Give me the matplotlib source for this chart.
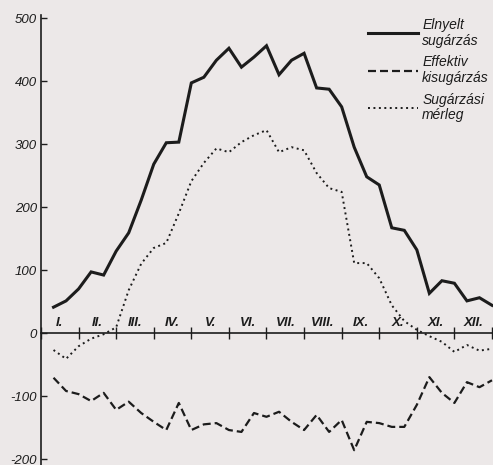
import matplotlib
matplotlib.use("Agg")
import matplotlib.pyplot as plt

# decade (10-day) values, 3 per month
decades = list(range(1, 37))
elnyelt = [41, 51, 70, 97, 92, 130, 159, 211, 268, 302, 303, 397,
           406, 433, 452, 422, 438, 456, 410, 433, 444, 389, 387, 359,
           295, 248, 235, 167, 163, 132, 63, 83, 79, 51, 56, 44]
effektiv = [-71, -92, -97, -108, -95, -122, -109, -127, -141, -154, -111, -154,
            -145, -143, -154, -157, -127, -133, -125, -141, -154, -130, -157, -138,
            -186, -141, -143, -149, -149, -114, -70, -95, -111, -78, -86, -75]
merleg = [-27, -41, -21, -9, -2, 9, 68, 110, 135, 143, 190, 241,
          270, 293, 287, 303, 314, 322, 287, 295, 290, 254, 230, 224,
          111, 111, 87, 44, 19, 5, -5, -14, -30, -19, -28, -25]
months = ["I.", "II.", "III.", "IV.", "V.", "VI.",
          "VII.", "VIII.", "IX.", "X.", "XI.", "XII."]
yticks = [-200, -100, 0, 100, 200, 300, 400, 500]

bg = "#ece8e8"
ink = "#1c1c1c"
fam = ["Liberation Sans", "DejaVu Sans"]

fig = plt.figure(figsize=(4.93, 4.65), dpi=100, facecolor=bg)
ax = fig.add_axes([41 / 493, 0, 1 - 41 / 493, 1])
ax.set_facecolor(bg)

ax.plot(decades, elnyelt, color=ink, lw=2.2, solid_joinstyle="miter",
        label="Elnyelt\nsugárzás")
ax.plot(decades, effektiv, color=ink, lw=1.6, dashes=(3.6, 1.8),
        label="Effektiv\nkisugárzás")
ax.plot(decades, merleg, color=ink, lw=1.4, linestyle=(0, (1, 1.8)),
        label="Sugárzási\nmérleg")

ax.set_xlim(0, 36.08)
ax.set_ylim(-209.5, 528.6)

# axes drawn like the original: x axis through zero, y axis on the left
ax.spines["top"].set_visible(False)
ax.spines["right"].set_visible(False)
ax.spines["bottom"].set_position(("data", 0))
ax.spines["left"].set_bounds(-209.5, 505)
for s in ("bottom", "left"):
    ax.spines[s].set_color(ink)
    ax.spines[s].set_linewidth(1.2)

ax.set_xticks(range(0, 37, 3))
ax.set_xticklabels([])
ax.tick_params(axis="x", direction="inout", length=9, width=1, color=ink)
ax.set_yticks(yticks)
ax.set_yticklabels([str(v) for v in yticks], family=fam, style="italic",
                   fontsize=9.5, color=ink)
ax.tick_params(axis="y", direction="in", length=4, width=1, pad=3, color=ink)

for i, m in enumerate(months):
    ax.text(3 * i + 1.5, 6, m, ha="center", va="bottom", family=fam,
            style="italic", fontweight="bold", fontsize=9.5, color=ink)

leg = ax.legend(loc="upper left", bbox_to_anchor=(368 / 493, 1 - 18 / 465),
                bbox_transform=fig.transFigure, frameon=False, borderpad=0,
                borderaxespad=0, handlelength=3.6, handletextpad=0.3,
                labelspacing=0.55,
                prop={"family": fam, "style": "italic", "size": 10})
for t in leg.get_texts():
    t.set_color(ink)
    t.set_linespacing(1.15)

fig.savefig("out.png", dpi=100, facecolor=bg)
